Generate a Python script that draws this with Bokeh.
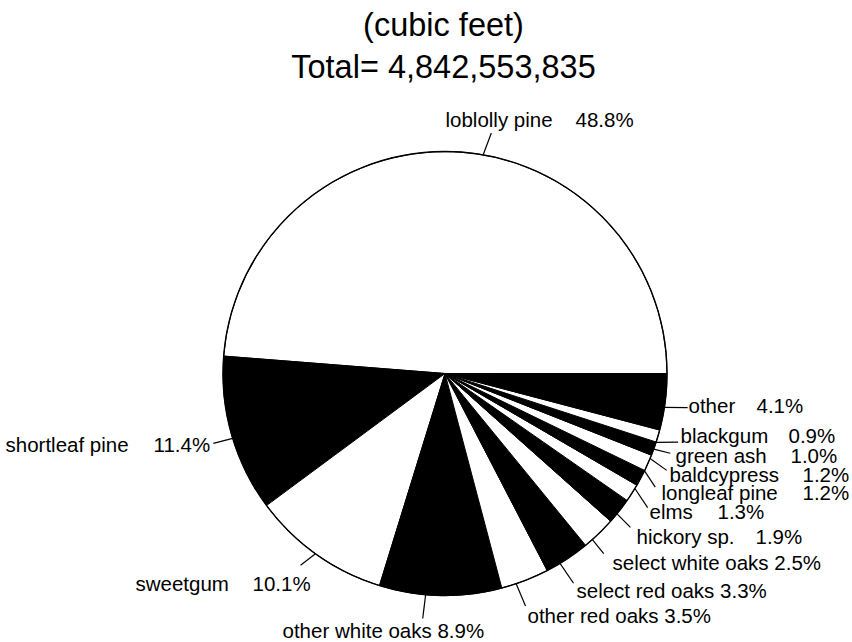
import numpy as np
from bokeh.plotting import figure
from bokeh.models import Range1d, ColumnDataSource
from bokeh.embed import file_html
from bokeh.resources import INLINE
from bokeh.core.properties import value

# ---------------- data ----------------
species = ["loblolly pine", "shortleaf pine", "sweetgum", "other white oaks",
           "other red oaks", "select red oaks", "select white oaks", "hickory sp.",
           "elms", "longleaf pine", "baldcypress", "green ash", "blackgum", "other"]
percent = [48.8, 11.4, 10.1, 8.9, 3.5, 3.3, 2.5, 1.9, 1.3, 1.2, 1.2, 1.0, 0.9, 4.1]
title_lines = ["(cubic feet)", "Total= 4,842,553,835"]

# ---------------- layout (screen pixels; y measured downward) ----------------
CX, CY, R = 444.5, 373.0, 222.0
# leader line: inner angle (deg, on the rim), outer angle (deg), outer radius
leader = [(80.1, 79.1, 245), (197.0, 196.8, 242), (234.3, 233.0, 240),
          (265.0, 264.8, 246), (288.7, 289.1, 246), (301.2, 301.5, 246),
          (311.6, 311.4, 240), (320.8, 320.3, 241), (328.8, 326.5, 243),
          (334.0, 331.6, 239), (337.5, 336.4, 242), (340.1, 340.5, 239),
          (341.9, 343.6, 243), (351.2, 352.0, 245)]
# label: name x, percent x (None -> one string), baseline y
label_pos = [(445, 575, 127), (5, 153, 452), (135, 252, 591),
             (282, None, 638), (527, None, 623), (576, None, 598),
             (612, None, 570), (636, 755, 544), (649, 717, 519),
             (661, 802, 500), (669, 802, 482), (675, 790, 463),
             (680, 788, 443), (688, 756, 413)]
LABEL_FS, TITLE_FS = 20.5, 32.5
BASE_SHIFT = 0.39  # renderer places "alphabetic" text lower by ~0.39 em
FONT = value("Liberation Sans")

W, H = 852, 642
p = figure(width=W, height=H, output_backend="svg", toolbar_location=None,
           x_range=Range1d(0, W), y_range=Range1d(-H, 0),
           x_axis_location=None, y_axis_location=None, min_border=0,
           background_fill_color="white", border_fill_color="white")
p.outline_line_color = None
p.grid.visible = False

# ---------------- pie ----------------
vals = np.array(percent, dtype=float)
frac = vals / vals.sum()
ends = np.cumsum(frac) * 2 * np.pi
starts = np.concatenate([[0.0], ends[:-1]])
colors = ["white" if i % 2 == 0 else "black" for i in range(len(vals))]
src = ColumnDataSource(dict(start=starts, end=ends, color=colors))
p.wedge(x=CX, y=-CY, radius=R, start_angle="start", end_angle="end",
        fill_color="color", line_color="black", line_width=1.0, source=src)
p.circle(x=[CX], y=[-CY], radius=R, fill_color=None, line_color="black", line_width=1.4)

# ---------------- leader lines ----------------
xs, ys = [], []
for a0, a1, r1 in leader:
    t0, t1 = np.radians(a0), np.radians(a1)
    xs.append([CX + R * np.cos(t0), CX + r1 * np.cos(t1)])
    ys.append([-CY + R * np.sin(t0), -CY + r1 * np.sin(t1)])
p.multi_line(xs, ys, line_color="black", line_width=1.2)

# ---------------- labels ----------------
tx, ty, tt = [], [], []
dy = BASE_SHIFT * LABEL_FS
for name, v, (nx, px, by) in zip(species, percent, label_pos):
    pct = f"{v:.1f}%"
    if px is None:
        tx.append(nx); ty.append(-(by - dy)); tt.append(f"{name} {pct}")
    else:
        tx.append(nx); ty.append(-(by - dy)); tt.append(name)
        tx.append(px); ty.append(-(by - dy)); tt.append(pct)
p.text(x=tx, y=ty, text=tt, text_align="left", text_baseline="alphabetic",
       text_font=FONT, text_font_size=f"{LABEL_FS}px", text_color="black")

# ---------------- title ----------------
tdy = BASE_SHIFT * TITLE_FS
p.text(x=[443, 443], y=[-(37 - tdy), -(79 - tdy)], text=title_lines, text_align="center",
       text_baseline="alphabetic", text_font=FONT, text_font_size=f"{TITLE_FS}px",
       text_color="black")

open("out.html", "w").write(file_html(p, INLINE))
